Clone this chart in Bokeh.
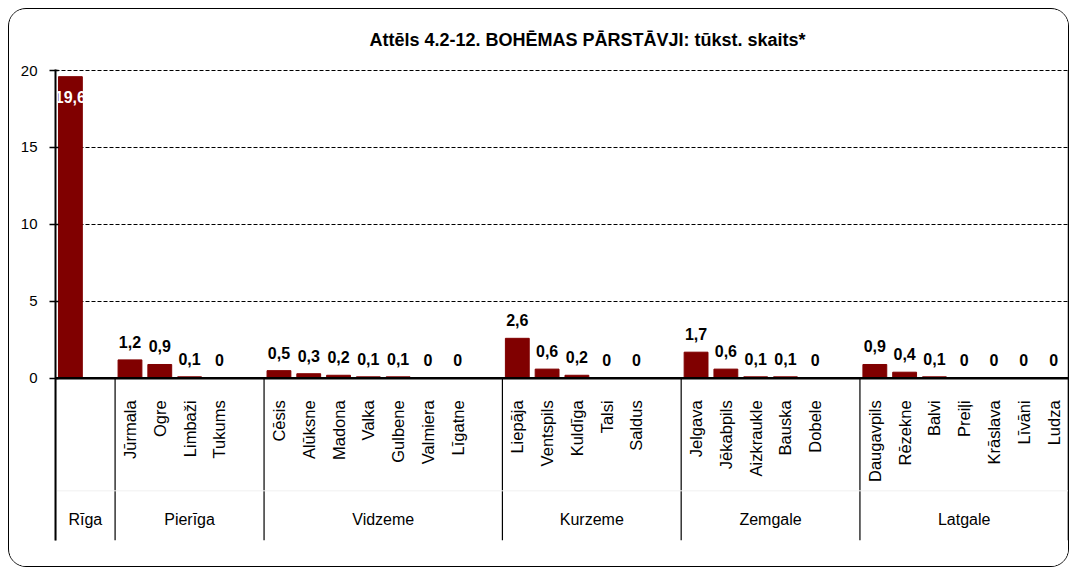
import math
from bokeh.plotting import figure
from bokeh.models import Range1d, FixedTicker, ColumnDataSource, InlineStyleSheet
from bokeh.core.properties import value
from bokeh.embed import file_html
from bokeh.resources import INLINE

# ---------------- data ----------------
regions = ["Rīga", "Pierīga", "Vidzeme", "Kurzeme", "Zemgale", "Latgale"]

riga_cities = [""]
riga_values = [19.6]

pieriga_cities = ["Jūrmala", "Ogre", "Limbaži", "Tukums"]
pieriga_values = [1.2, 0.9, 0.1, 0.0]

vidzeme_cities = ["Cēsis", "Alūksne", "Madona", "Valka", "Gulbene", "Valmiera", "Līgatne"]
vidzeme_values = [0.5, 0.3, 0.2, 0.1, 0.1, 0.0, 0.0]

kurzeme_cities = ["Liepāja", "Ventspils", "Kuldīga", "Talsi", "Saldus"]
kurzeme_values = [2.6, 0.6, 0.2, 0.0, 0.0]

zemgale_cities = ["Jelgava", "Jēkabpils", "Aizkraukle", "Bauska", "Dobele"]
zemgale_values = [1.7, 0.6, 0.1, 0.1, 0.0]

latgale_cities = ["Daugavpils", "Rēzekne", "Balvi", "Preiļi", "Krāslava", "Līvāni", "Ludza"]
latgale_values = [0.9, 0.4, 0.1, 0.0, 0.0, 0.0, 0.0]

y_ticks = [0, 5, 10, 15, 20]
grid_ticks = [5, 10, 15, 20]
title_text = "Attēls 4.2-12. BOHĒMAS PĀRSTĀVJI: tūkst. skaits*"

group_cities = [riga_cities, pieriga_cities, vidzeme_cities, kurzeme_cities, zemgale_cities, latgale_cities]
group_values = [riga_values, pieriga_values, vidzeme_values, kurzeme_values, zemgale_values, latgale_values]

# ---------------- layout of slots ----------------
xs, cities, vals, bounds, centers = [], [], [], [0], []
pos = 0
for gi, (cs, vs) in enumerate(zip(group_cities, group_values)):
    start = pos
    for c, v in zip(cs, vs):
        xs.append(pos + 0.5)
        cities.append(c)
        vals.append(v)
        pos += 1
    if gi < len(group_cities) - 1:
        pos += 1  # empty slot at group end
    bounds.append(pos)
    centers.append((start + pos) / 2)
n_slots = pos

def fmt(v):
    return "0" if v == 0 else ("%.1f" % v).replace(".", ",")

labels = [fmt(v) for v in vals]
inside = [v > 18 for v in vals]
lab_color = ["white" if i else "black" for i in inside]
lab_off = [20 if i else -18 for i in inside]

W, H = 1059, 557
FL, FR, FT, FB = 46, 1057, 60, 529
y_top = 20
ppu = (FB - FT) / 30.6
y_top_r = 20 + 1.0 / ppu
y_bot = y_top - (FB - FT) / ppu + 1.0 / ppu

p = figure(width=W, height=H, output_backend="svg", toolbar_location=None,
           x_range=Range1d(0, n_slots), y_range=Range1d(y_bot, y_top_r),
           min_border_left=FL, min_border_right=W - FR, min_border_top=FT,
           min_border_bottom=H - FB)
p.stylesheets = [InlineStyleSheet(css=":host { margin: 8px 0 0 8px; border: 1.5px solid black; border-radius: 18px; box-sizing: content-box; overflow: hidden; }")]
p.outline_line_color = None
p.background_fill_color = "white"
p.border_fill_color = "white"
p.xaxis.visible = False
p.xgrid.visible = False
p.ygrid.ticker = FixedTicker(ticks=grid_ticks)
p.ygrid.grid_line_color = "black"
p.ygrid.grid_line_dash = "4 2"
p.ygrid.grid_line_width = 1

p.title.text = title_text
p.title.align = "left"
p.title.vertical_align = "top"
p.title.offset = 314
p.title.standoff = 36
p.title.text_font = "Liberation Sans"
p.title.text_font_style = "bold"
p.title.text_font_size = "18px"
p.title.text_color = "black"

ax = p.yaxis[0]
ax.ticker = FixedTicker(ticks=y_ticks)
ax.axis_line_width = 2
ax.axis_line_color = "black"
ax.major_tick_out = 6
ax.major_tick_in = 3
ax.major_tick_line_width = 1.5
ax.minor_tick_line_color = None
ax.major_label_text_font = "Liberation Sans"
ax.major_label_text_font_size = "15px"
ax.major_label_text_color = "black"
ax.major_label_standoff = 12

src = ColumnDataSource(dict(x=xs, top=vals, city=cities, label=labels,
                            color=lab_color, off=lab_off))

p.vbar(x="x", top="top", bottom=0, width=0.8, source=src,
       fill_color="#800000", line_color="#800000", line_width=1)

p.segment(x0=[0], y0=[0], x1=[n_slots], y1=[0], line_color="black", line_width=2.5)
p.segment(x0=bounds, y0=[0] * len(bounds), x1=bounds, y1=[y_bot] * len(bounds),
          line_color="black", line_width=1.2)
p.segment(x0=[n_slots], y0=[y_bot], x1=[n_slots], y1=[y_top], line_color="black", line_width=1.5)
sep_y = -112 / ppu
p.segment(x0=[0], y0=[sep_y], x1=[n_slots], y1=[sep_y], line_color="#f0f0f0", line_width=1)

p.text(x="x", y="top", text="label", source=src, text_color="color", y_offset="off",
       text_align="center", text_baseline="middle", text_font=value("Liberation Sans"),
       text_font_style="bold", text_font_size="16px")

p.text(x="x", y=0, text="city", source=src, angle=math.pi / 2, y_offset=22,
       text_align="right", text_baseline="middle", text_font=value("Liberation Sans"),
       text_font_size="16.5px", text_color="black")

p.text(x=centers, y=[0] * len(centers), text=regions, y_offset=141,
       text_align="center", text_baseline="middle", text_font=value("Liberation Sans"),
       text_font_size="16px", text_color="black")

open("out.html", "w").write(file_html(p, INLINE))
